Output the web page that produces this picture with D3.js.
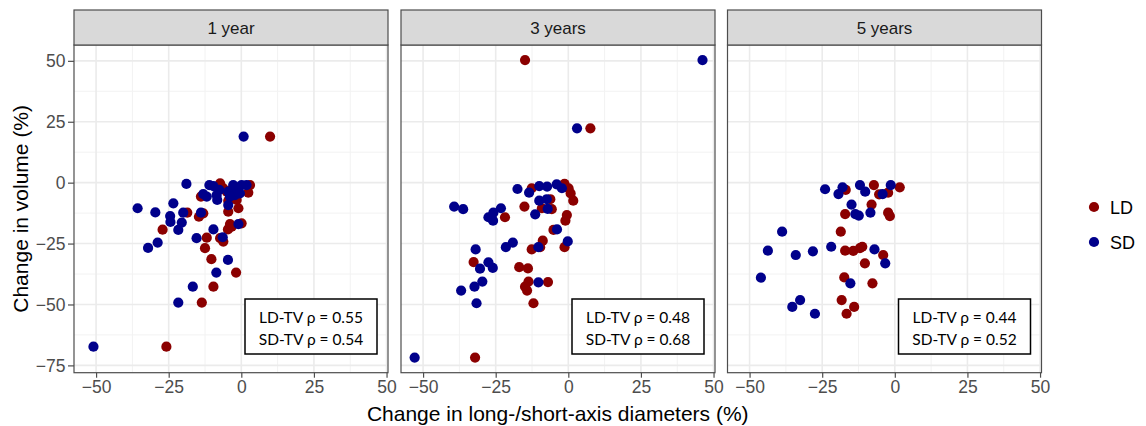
<!DOCTYPE html>
<html><head><meta charset="utf-8">
<script src="https://cdn.jsdelivr.net/npm/d3@7"></script>
<style>body{margin:0;background:#fff}</style>
</head><body>
<script>
const panels = ["1 year", "3 years", "5 years"];
const rhoLD = [0.55, 0.48, 0.44];
const rhoSD = [0.54, 0.68, 0.52];
const xTicks = [-50, -25, 0, 25, 50];
const yTicks = [50, 25, 0, -25, -50, -75];
const seriesNames = ["LD", "SD"];

// [x, y] pairs per panel
const ld1 = [[9.9,18.9],[-25.8,-67.3],[-27.1,-19.3],[-18.6,-12.3],[-14.6,-14.0],[-13.1,-12.6],[-11.9,-22.6],[-12.5,-26.9],[-10.3,-31.4],[-9.6,-42.7],[-13.6,-49.2],[-1.8,-36.9],[-7.3,-22.8],[-6.2,-24.2],[-4.6,-19.2],[-3.9,-17.0],[-3.3,-18.1],[-4.5,-11.9],[-1.0,-10.5],[0.1,-16.7],[-4.5,-7.5],[-1.6,-7.1],[2.4,-4.1],[3.0,-1.0],[-7.3,-0.3],[-6.2,-2.3],[-3.3,-3.0],[-13.9,-5.7],[-5.0,-3.7]];
const sd1 = [[0.8,18.9],[-50.9,-67.3],[-18.9,-0.5],[-35.7,-10.5],[-29.6,-12.2],[-23.4,-8.5],[-24.5,-13.7],[-24.4,-16.1],[-20.5,-16.4],[-20.0,-12.3],[-21.7,-19.4],[-28.8,-24.6],[-32.1,-26.8],[-15.4,-22.8],[-13.9,-12.3],[-9.6,-19.2],[-6.4,-22.4],[-4.6,-31.7],[-8.6,-36.9],[-16.7,-42.7],[-21.7,-49.2],[-1.0,-17.0],[-8.3,-7.1],[-4.5,-9.2],[-11.0,-1.0],[-9.6,-1.4],[-13.1,-4.7],[-11.9,-5.7],[-8.5,-5.1],[-7.6,-3.0],[-4.5,-3.7],[-2.8,-1.0],[-1.6,-1.9],[0.1,-1.0],[1.8,-1.0],[-2.2,-5.1],[-0.5,-4.4],[-3.9,-5.7]];
const ld3 = [[-14.9,50.3],[7.6,22.3],[-32.1,-71.8],[-12.6,-2.3],[-1.3,-0.5],[0.1,-2.3],[0.8,-4.4],[1.7,-7.4],[-6.2,-6.8],[-9.1,-10.5],[-5.7,-10.9],[-15.1,-9.8],[-21.8,-14.2],[-0.5,-13.3],[-1.0,-15.6],[-5.1,-19.4],[-8.8,-23.8],[-9.7,-26.5],[-12.6,-27.4],[-1.3,-26.5],[-32.6,-32.6],[-16.9,-34.7],[-13.9,-35.2],[-13.7,-40.6],[-14.9,-42.7],[-14.2,-44.3],[-7.0,-40.8],[-12.0,-49.5]];
const sd3 = [[46.2,50.3],[3.0,22.3],[-52.9,-71.8],[-17.5,-2.6],[-13.5,-4.1],[-10.0,-1.4],[-7.3,-1.6],[-4.0,-0.7],[-2.2,-2.3],[-10.0,-7.4],[-7.4,-6.8],[-7.1,-10.8],[-11.4,-13.0],[-39.3,-9.8],[-36.2,-10.9],[-23.2,-10.5],[-25.8,-12.3],[-27.5,-14.2],[-25.9,-15.6],[-3.9,-19.2],[-0.2,-24.1],[-19.1,-24.6],[-21.5,-26.5],[-10.3,-26.5],[-31.9,-27.4],[-27.5,-32.7],[-30.4,-35.3],[-26.0,-35.0],[-29.6,-40.6],[-32.3,-42.7],[-36.9,-44.3],[-10.3,-40.9],[-31.6,-49.5]];
const ld5 = [[-16.9,-3.0],[-7.2,-1.0],[1.7,-1.9],[-5.4,-4.8],[-2.3,-4.1],[-8.0,-9.0],[-17.1,-12.9],[-2.3,-12.3],[-1.7,-13.7],[-18.6,-20.1],[-17.1,-27.9],[-14.3,-28.0],[-12.0,-26.9],[-11.2,-26.3],[-4.0,-29.7],[-10.3,-33.1],[-17.4,-38.9],[-7.7,-41.3],[-18.3,-48.2],[-14.0,-51.0],[-16.6,-53.8]];
const sd5 = [[-24.0,-2.7],[-18.0,-1.9],[-19.4,-4.7],[-12.0,-1.0],[-10.2,-3.7],[-4.2,-4.7],[-1.4,-1.0],[-14.9,-9.0],[-13.6,-12.9],[-12.4,-13.5],[-8.4,-12.3],[-38.8,-20.1],[-43.7,-27.9],[-34.1,-29.7],[-28.2,-28.2],[-21.9,-26.3],[-7.0,-27.4],[-3.3,-33.1],[-46.1,-39.0],[-15.3,-41.3],[-32.6,-48.2],[-35.3,-51.0],[-27.5,-53.8]];

const ldData = [ld1, ld3, ld5];
const sdData = [sd1, sd3, sd5];
const colors = {LD: "#8B0000", SD: "#00008B"};

const W = 1146, H = 426;
const svg = d3.select("body").append("svg").attr("width", W).attr("height", H)
  .style("font-family", "Arial, 'Liberation Sans', sans-serif");

const panelX = [74, 401, 727.5];
const panelW = 314;
const plotTop = 45, plotBottom = 372.7, stripTop = 10;
const R = 5.1;

const y = d3.scaleLinear().domain([-78, 56.5]).range([plotBottom, plotTop]);
const yMinor = [37.5, 12.5, -12.5, -37.5, -62.5];
const xMinor = [-37.5, -12.5, 12.5, 37.5];

panels.forEach((name, i) => {
  const x = d3.scaleLinear().domain([-57.6, 50.5]).range([panelX[i], panelX[i] + panelW]);
  const g = svg.append("g");
  g.append("rect").attr("x", panelX[i]).attr("y", plotTop).attr("width", panelW).attr("height", plotBottom - plotTop).attr("fill", "#fff");
  // minor grid
  g.selectAll(".mx").data(xMinor).join("line").attr("x1", d => x(d)).attr("x2", d => x(d)).attr("y1", plotTop).attr("y2", plotBottom)
    .attr("stroke", "#F2F2F2").attr("stroke-width", 1);
  g.selectAll(".my").data(yMinor).join("line").attr("y1", d => y(d)).attr("y2", d => y(d)).attr("x1", panelX[i]).attr("x2", panelX[i] + panelW)
    .attr("stroke", "#F2F2F2").attr("stroke-width", 1);
  // major grid
  g.selectAll(".gx").data(xTicks).join("line").attr("x1", d => x(d)).attr("x2", d => x(d)).attr("y1", plotTop).attr("y2", plotBottom)
    .attr("stroke", "#EBEBEB").attr("stroke-width", 1.6);
  g.selectAll(".gy").data(yTicks).join("line").attr("y1", d => y(d)).attr("y2", d => y(d)).attr("x1", panelX[i]).attr("x2", panelX[i] + panelW)
    .attr("stroke", "#EBEBEB").attr("stroke-width", 1.6);

  // points
  g.append("g").selectAll("circle").data(ldData[i]).join("circle").attr("cx", d => x(d[0])).attr("cy", d => y(d[1])).attr("r", R).attr("fill", colors.LD);
  g.append("g").selectAll("circle").data(sdData[i]).join("circle").attr("cx", d => x(d[0])).attr("cy", d => y(d[1])).attr("r", R).attr("fill", colors.SD);

  // border
  g.append("rect").attr("x", panelX[i]).attr("y", plotTop).attr("width", panelW).attr("height", plotBottom - plotTop)
    .attr("fill", "none").attr("stroke", "#4D4D4D").attr("stroke-width", 1.2);
  // strip
  g.append("rect").attr("x", panelX[i]).attr("y", stripTop).attr("width", panelW).attr("height", plotTop - stripTop)
    .attr("fill", "#D9D9D9").attr("stroke", "#4D4D4D").attr("stroke-width", 1.2);
  g.append("text").attr("x", panelX[i] + panelW / 2).attr("y", 34).attr("text-anchor", "middle")
    .attr("font-size", 17).attr("fill", "#1A1A1A").text(name);

  // x axis
  const xa = svg.append("g").attr("transform", `translate(0,${plotBottom})`)
    .call(d3.axisBottom(x).tickValues(xTicks).tickSize(5).tickPadding(3).tickFormat(d3.format("d")));
  xa.select(".domain").remove();
  xa.selectAll("line").attr("stroke", "#4D4D4D").attr("stroke-width", 1.2);
  xa.selectAll("text").attr("font-size", 17.5).attr("fill", "#4D4D4D").attr("font-family", "Arial, 'Liberation Sans', sans-serif");

  // annotation box
  const bx = panelX[i] + panelW - 143, bw = 132, by = 299, bh = 55;
  g.append("rect").attr("x", bx).attr("y", by).attr("width", bw).attr("height", bh)
    .attr("fill", "#fff").attr("stroke", "#000").attr("stroke-width", 1.5);
  g.append("text").attr("x", bx + bw / 2).attr("y", by + 23.5).attr("text-anchor", "middle").attr("font-size", 15.5)
    .attr("font-family", "Lato, 'Open Sans', sans-serif").attr("fill", "#000")
    .text(`LD-TV ρ = ${rhoLD[i].toFixed(2)}`);
  g.append("text").attr("x", bx + bw / 2).attr("y", by + 45.5).attr("text-anchor", "middle").attr("font-size", 15.5)
    .attr("font-family", "Lato, 'Open Sans', sans-serif").attr("fill", "#000")
    .text(`SD-TV ρ = ${rhoSD[i].toFixed(2)}`);
});

// y axis
const ya = svg.append("g").attr("transform", `translate(${panelX[0]},0)`)
  .call(d3.axisLeft(y).tickValues(yTicks).tickSize(6).tickPadding(2.5).tickFormat(d3.format("d")));
ya.select(".domain").remove();
ya.selectAll("line").attr("stroke", "#4D4D4D").attr("stroke-width", 1.2);
ya.selectAll("text").attr("font-size", 17.5).attr("fill", "#4D4D4D").attr("font-family", "Arial, 'Liberation Sans', sans-serif");

// axis titles
svg.append("text").attr("x", (panelX[0] + panelX[2] + panelW) / 2).attr("y", 421).attr("text-anchor", "middle")
  .attr("font-size", 21).attr("fill", "#000").text("Change in long-/short-axis diameters (%)");
svg.append("text").attr("transform", `translate(27.5,${(plotTop + plotBottom) / 2}) rotate(-90)`).attr("text-anchor", "middle")
  .attr("font-size", 21).attr("fill", "#000").text("Change in volume (%)");

// legend
const leg = svg.append("g");
seriesNames.forEach((s, k) => {
  leg.append("circle").attr("cx", 1094).attr("cy", 207 + k * 35).attr("r", R).attr("fill", colors[s]);
  leg.append("text").attr("x", 1110).attr("y", 207 + k * 35 + 6.5).attr("font-size", 18).attr("fill", "#000").text(s);
});
</script>
</body></html>
